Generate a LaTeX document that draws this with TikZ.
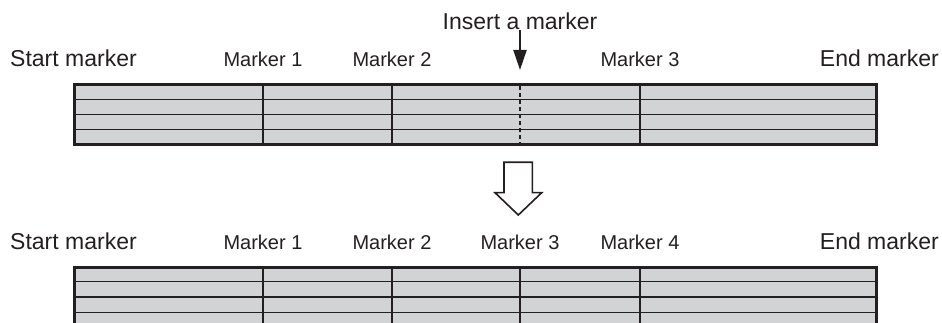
\documentclass[tikz,border=0pt]{standalone}
\usepackage{fontspec}
\setmainfont{Liberation Sans}
\usetikzlibrary{arrows.meta}
\definecolor{ink}{HTML}{231F20}
\definecolor{cellgray}{HTML}{D1D3D4}
\begin{document}
\begin{tikzpicture}[x=1pt,y=-1pt,
  big/.style={font=\fontsize{23}{27}\selectfont, text=ink, inner sep=0pt},
  small/.style={font=\fontsize{20}{24}\selectfont, text=ink, inner sep=0pt},
  border/.style={draw=ink, line width=3pt},
  rowline/.style={draw=ink, line width=1.3pt},
  cutline/.style={draw=ink, line width=1.3pt, dash pattern=on 4pt off 3pt},
  hollow/.style={draw=ink, line width=1.6pt, fill=white, line join=miter},
]
\useasboundingbox (0,0) rectangle (942,323);
\clip (0,0) rectangle (942,323);

% ---------- top labels ----------
\node[big, anchor=base] (ins) at (520,30) {Insert a marker};
\node[big, anchor=base west] (s1) at (10,67) {Start marker};
\node[big, anchor=base east] (e1) at (939,67) {End marker};
\node[small, anchor=base] (m11) at (263,67) {Marker 1};
\node[small, anchor=base] (m12) at (392,67) {Marker 2};
\node[small, anchor=base] (m13) at (640,67) {Marker 3};

\coordinate (instip) at (520,70);
\draw[ink, line width=2pt, -{Triangle[length=20pt,width=13pt]}] (ins.south) -- (instip);

% ---------- top table ----------
\fill[cellgray] (74,85) rectangle (876,144.2);
\foreach \y in {99.8,114.6,129.4} \draw[rowline] (74,\y) -- (876,\y);
\foreach \x in {263,392,640} \draw[rowline] (\x,85) -- (\x,144.2);
\draw[cutline] (520,86.5) -- (520,144.2);
\draw[border] (74,85) rectangle (876,144.2);

% ---------- hollow arrow ----------
\draw[hollow] (504,162.3) -- (532.3,162.3) -- (532.3,192.7) -- (541.7,192.7)
  -- (518.3,215) -- (495,192.7) -- (504,192.7) -- cycle;

% ---------- bottom labels ----------
\node[big, anchor=base west] (s2) at (10,249) {Start marker};
\node[big, anchor=base east] (e2) at (939,249) {End marker};
\node[small, anchor=base] (m21) at (263,249) {Marker 1};
\node[small, anchor=base] (m22) at (392,249) {Marker 2};
\node[small, anchor=base] (m23) at (520,249) {Marker 3};
\node[small, anchor=base] (m24) at (640,249) {Marker 4};

% ---------- bottom table ----------
\fill[cellgray] (74,267) rectangle (876,340);
\foreach \y in {281.7,297,312.3,327.6} \draw[rowline] (74,\y) -- (876,\y);
\foreach \x in {263,392,520,640} \draw[rowline] (\x,267) -- (\x,340);
\draw[border] (74,340) -- (74,267) -- (876,267) -- (876,340);
\end{tikzpicture}
\end{document}
